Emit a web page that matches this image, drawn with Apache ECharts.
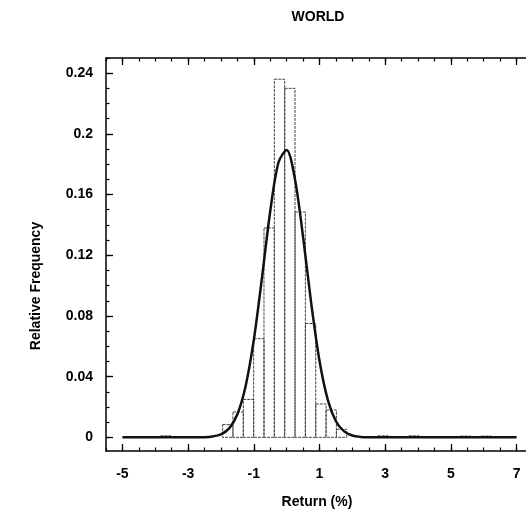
<!DOCTYPE html>
<html>
<head>
<meta charset="utf-8">
<script src="https://cdn.jsdelivr.net/npm/echarts@6/dist/echarts.min.js"></script>
<style>html,body{margin:0;padding:0;background:#fff}#c{width:526px;height:523px}</style>
</head>
<body>
<div id="c"></div>
<script>
// ---- data ----
var titleText = 'WORLD';
var xName = 'Return (%)';
var yName = 'Relative Frequency';
var xTickLabels = [-5, -3, -1, 1, 3, 5, 7];
var yTickLabels = [0, 0.04, 0.08, 0.12, 0.16, 0.2, 0.24];
var yMinorTicks = [0,0.01,0.02,0.03,0.04,0.05,0.06,0.07,0.08,0.09,0.1,0.11,0.12,0.13,0.14,0.15,0.16,0.17,0.18,0.19,0.2,0.21,0.22,0.23,0.24,0.25];
// histogram bins (left edge, right edge, relative frequency)
var binLeft  = [-3.84, -1.95, -1.635, -1.32, -1.005, -0.69, -0.375, -0.06, 0.255, 0.57, 0.885, 1.2, 1.515, 2.775, 3.72, 5.295, 5.925];
var binRight = [-3.525, -1.635, -1.32, -1.005, -0.69, -0.375, -0.06, 0.255, 0.57, 0.885, 1.2, 1.515, 1.83, 3.09, 4.035, 5.61, 6.24];
var binFreq  = [0.001, 0.0084, 0.0167, 0.025, 0.065, 0.138, 0.236, 0.230, 0.1485, 0.075, 0.022, 0.018, 0.0053, 0.001, 0.001, 0.0008, 0.0008];
// fitted normal curve
var curveX = [-5, -4, -3, -2.5, -2.25, -2, -1.75, -1.5, -1.25, -1, -0.75, -0.5, -0.25, 0, 0.25, 0.5, 0.75, 1, 1.25, 1.5, 1.75, 2, 2.25, 2.5, 3, 4, 5, 6, 7];
var curveY = [0, 0, 0, 0.0001, 0.0006, 0.0020, 0.0059, 0.0152, 0.0337, 0.0642, 0.1054, 0.1490, 0.1811, 0.1894, 0.1705, 0.1321, 0.0880, 0.0505, 0.0249, 0.0106, 0.0039, 0.0012, 0.0003, 0.0001, 0, 0, 0, 0, 0];

var xMin = -5.5, xMax = 7.5, yMin = -0.009, yMax = 0.25;
var font = "'Liberation Sans', Arial, sans-serif";

var bins = binLeft.map(function (l, i) { return [l, binRight[i], binFreq[i]]; });
var curve = curveX.map(function (x, i) { return [x, curveY[i]]; });

var lineStyle = { color: '#000', width: 1.5 };
function xAx(pos, major, showLabel) {
  return {
    type: 'value', position: pos, min: xMin, max: xMax,
    interval: major ? undefined : 0.5,
    splitLine: { show: false },
    axisLine: { show: major, onZero: false, lineStyle: lineStyle },
    axisTick: major ? { inside: true, length: 7, customValues: xTickLabels, lineStyle: { color: '#000', width: 1.3 } }
                    : { inside: true, length: 3.5, lineStyle: { color: '#000', width: 1.2 } },
    axisLabel: showLabel ? { customValues: xTickLabels, margin: 16, color: '#000', fontSize: 14, fontWeight: 'bold', fontFamily: font,
                             formatter: function (v) { return String(v); } } : { show: false }
  };
}
function yAx(pos, major, showLabel) {
  return {
    type: 'value', position: pos, min: yMin, max: yMax,
    splitLine: { show: false },
    axisLine: { show: major, onZero: false, lineStyle: lineStyle },
    axisTick: major ? { inside: true, length: 7, customValues: yTickLabels, lineStyle: { color: '#000', width: 1.3 } }
                    : { inside: true, length: 3.5, customValues: yMinorTicks, lineStyle: { color: '#000', width: 1.2 } },
    axisLabel: showLabel ? { customValues: yTickLabels, margin: 13, color: '#000', fontSize: 14, fontWeight: 'bold', fontFamily: font,
                             formatter: function (v) { return String(+v.toFixed(2)); } } : { show: false }
  };
}

var chart = echarts.init(document.getElementById('c'), null, { renderer: 'canvas' });
chart.setOption({
  backgroundColor: '#fff',
  animation: false,
  grid: { left: 106, right: -7, top: 58, bottom: 72, containLabel: false, outerBoundsMode: 'none' },
  xAxis: [xAx('bottom', true, true), xAx('bottom', false, false), xAx('top', true, false), xAx('top', false, false)],
  yAxis: [yAx('left', true, true), yAx('left', false, false), yAx('right', true, false), yAx('right', false, false)],
  graphic: [
    { type: 'text', left: 'center', x: 0, style: { text: titleText, x: 318, y: 17, align: 'center', verticalAlign: 'middle', fill: '#000', font: 'bold 14px ' + font } , left: null },
    { type: 'text', style: { text: xName, x: 317, y: 502, align: 'center', verticalAlign: 'middle', fill: '#000', font: 'bold 14px ' + font } },
    { type: 'text', x: 36, y: 286, rotation: Math.PI / 2, style: { text: yName, x: 0, y: 0, align: 'center', verticalAlign: 'middle', fill: '#000', font: 'bold 14px ' + font } }
  ],
  series: [
    {
      type: 'custom', xAxisIndex: 0, yAxisIndex: 0, data: bins, z: 2,
      encode: { x: [0, 1], y: 2 },
      renderItem: function (params, api) {
        var p0 = api.coord([api.value(0), api.value(2)]);
        var p1 = api.coord([api.value(1), 0]);
        return {
          type: 'rect',
          shape: { x: p0[0], y: p0[1], width: p1[0] - p0[0], height: p1[1] - p0[1] },
          style: { fill: null, stroke: '#444', lineWidth: 1, lineDash: [3, 1] }
        };
      }
    },
    {
      type: 'line', xAxisIndex: 0, yAxisIndex: 0, data: curve, z: 3,
      smooth: 0.3, symbol: 'none',
      lineStyle: { color: '#111', width: 2.5 }
    }
  ]
});
</script>
</body>
</html>
